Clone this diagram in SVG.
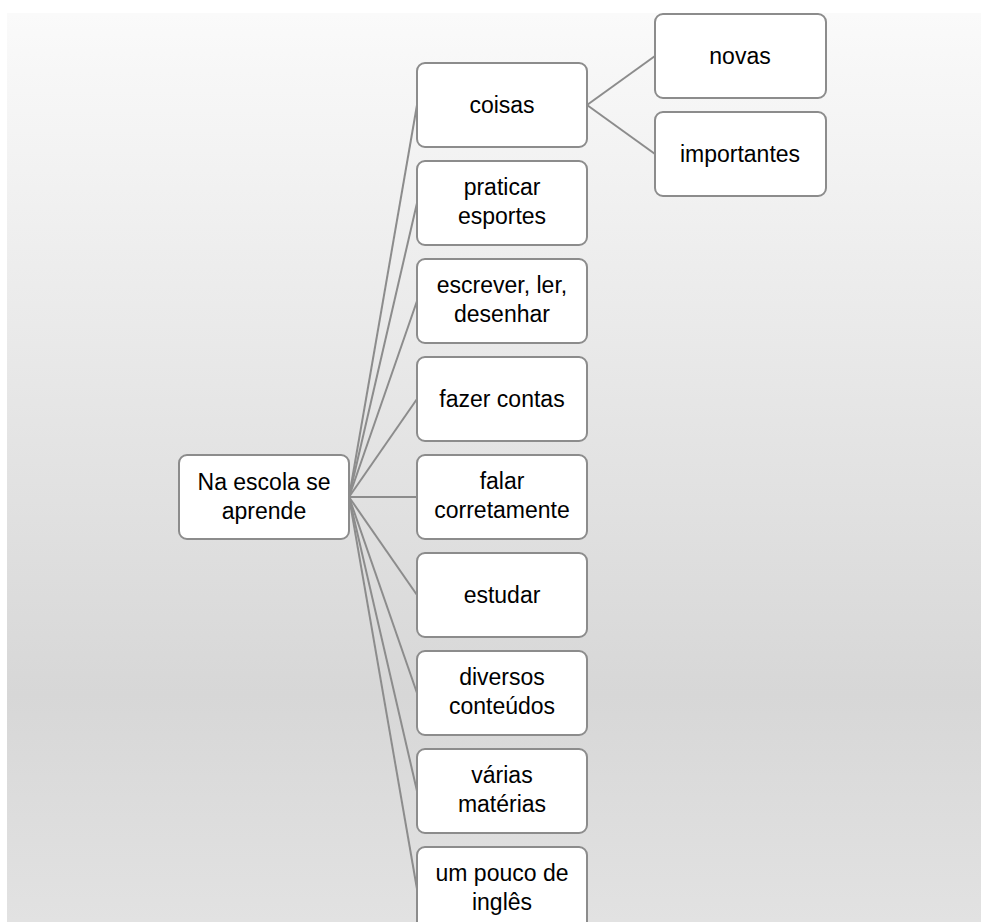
<svg xmlns="http://www.w3.org/2000/svg" width="981" height="922" viewBox="0 0 981 922">
<defs>
<linearGradient id="bg" x1="0" y1="0" x2="0" y2="1">
<stop offset="0" stop-color="#FAFAFA"/>
<stop offset="0.75" stop-color="#D7D7D7"/>
<stop offset="1" stop-color="#E2E2E2"/>
</linearGradient>
</defs>
<style>
.box{fill:#FFFFFF;stroke:#8C8C8C;stroke-width:2}
.t{font-family:"Liberation Sans",Arial,sans-serif;font-size:23px;fill:#000;text-anchor:middle}
.c{stroke:#8C8C8C;stroke-width:2;fill:none}
</style>
<rect x="0" y="0" width="981" height="922" fill="#FFFFFF"/>
<rect x="7" y="13" width="974" height="909" fill="url(#bg)"/>
<g id="connectors">
<line class="c" x1="349" y1="497" x2="417" y2="105"/>
<line class="c" x1="349" y1="497" x2="417" y2="203"/>
<line class="c" x1="349" y1="497" x2="417" y2="301"/>
<line class="c" x1="349" y1="497" x2="417" y2="399"/>
<line class="c" x1="349" y1="497" x2="417" y2="497"/>
<line class="c" x1="349" y1="497" x2="417" y2="595"/>
<line class="c" x1="349" y1="497" x2="417" y2="693"/>
<line class="c" x1="349" y1="497" x2="417" y2="791"/>
<line class="c" x1="349" y1="497" x2="417" y2="889"/>
<line class="c" x1="587" y1="105" x2="655" y2="56"/>
<line class="c" x1="587" y1="105" x2="655" y2="154"/>
</g>
<g id="root">
<rect class="box" x="179" y="455" width="170" height="84" rx="8"/>
<text class="t" x="264" y="490">Na escola se</text>
<text class="t" x="264" y="519">aprende</text>
</g>
<g id="coisas">
<rect class="box" x="417" y="63" width="170" height="84" rx="8"/>
<text class="t" x="502" y="113">coisas</text>
</g>
<g id="praticar">
<rect class="box" x="417" y="161" width="170" height="84" rx="8"/>
<text class="t" x="502" y="195">praticar</text>
<text class="t" x="502" y="224">esportes</text>
</g>
<g id="escrever">
<rect class="box" x="417" y="259" width="170" height="84" rx="8"/>
<text class="t" x="502" y="293">escrever, ler,</text>
<text class="t" x="502" y="322">desenhar</text>
</g>
<g id="fazer">
<rect class="box" x="417" y="357" width="170" height="84" rx="8"/>
<text class="t" x="502" y="407">fazer contas</text>
</g>
<g id="falar">
<rect class="box" x="417" y="455" width="170" height="84" rx="8"/>
<text class="t" x="502" y="489">falar</text>
<text class="t" x="502" y="518">corretamente</text>
</g>
<g id="estudar">
<rect class="box" x="417" y="553" width="170" height="84" rx="8"/>
<text class="t" x="502" y="603">estudar</text>
</g>
<g id="diversos">
<rect class="box" x="417" y="651" width="170" height="84" rx="8"/>
<text class="t" x="502" y="685">diversos</text>
<text class="t" x="502" y="714">conteúdos</text>
</g>
<g id="varias">
<rect class="box" x="417" y="749" width="170" height="84" rx="8"/>
<text class="t" x="502" y="783">várias</text>
<text class="t" x="502" y="812">matérias</text>
</g>
<g id="ingles">
<rect class="box" x="417" y="847" width="170" height="84" rx="8"/>
<text class="t" x="502" y="881">um pouco de</text>
<text class="t" x="502" y="910">inglês</text>
</g>
<g id="novas">
<rect class="box" x="655" y="14" width="171" height="84" rx="8"/>
<text class="t" x="740" y="64">novas</text>
</g>
<g id="importantes">
<rect class="box" x="655" y="112" width="171" height="84" rx="8"/>
<text class="t" x="740" y="162">importantes</text>
</g>
</svg>
